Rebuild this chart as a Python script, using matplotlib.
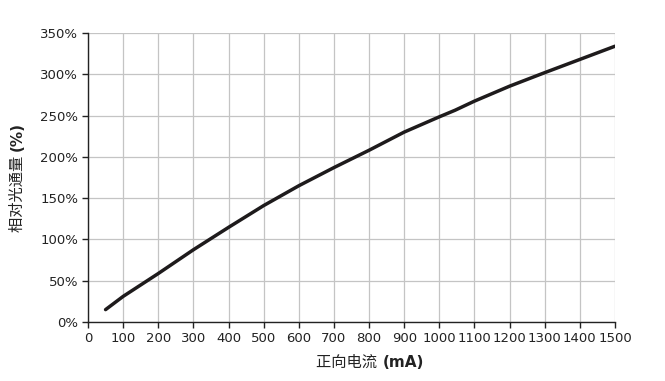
import matplotlib
matplotlib.use("Agg")
import matplotlib.pyplot as plt
from matplotlib.ticker import FuncFormatter

plt.rcParams['font.family'] = ['DejaVu Sans', 'Noto Sans CJK SC']

current_ma = [50, 100, 200, 300, 400, 500, 600, 700, 800, 900, 1000, 1045, 1100, 1200, 1300, 1400, 1500]
rel_flux = [15, 31, 58.7, 87.5, 114.6, 141, 165, 187, 208, 230, 248.5, 256.5, 267.5, 285.6, 302, 318, 334]

x_ticks = list(range(0, 1501, 100))
y_ticks = list(range(0, 351, 50))

fig = plt.figure(figsize=(6.65, 3.81), dpi=100)
ax = fig.add_axes([88/665, 1-322/381, (615-88)/665, (322-33)/381])

ax.plot(current_ma, rel_flux, color='#1e1b1c', lw=2.5, solid_capstyle='round', solid_joinstyle='round')

ax.set_xlim(0, 1500)
ax.set_ylim(0, 350)
ax.set_xticks(x_ticks)
ax.set_yticks(y_ticks)
ax.yaxis.set_major_formatter(FuncFormatter(lambda v, p: f"{int(v)}%"))
ax.grid(True, color='#c4c4c4', lw=0.9)
ax.set_axisbelow(True)
for s in ['top', 'right']:
    ax.spines[s].set_visible(False)
for s in ['left', 'bottom']:
    ax.spines[s].set_color('#222222')
    ax.spines[s].set_linewidth(1.0)
ax.tick_params(axis='both', direction='out', length=4, width=1.0, color='#222222',
               labelsize=9.5, labelcolor='#222222', pad=3)

fs = 11
# x label: normal Chinese + bold (mA)
t1 = fig.text(0, 0, "正向电流 ", fontsize=fs, color='#222222', va='baseline')
t2 = fig.text(0, 0, "(mA)", fontsize=fs, fontweight='bold', color='#222222', va='baseline')
fig.canvas.draw()
r = fig.canvas.get_renderer()
w1 = t1.get_window_extent(r).width
w2 = t2.get_window_extent(r).width
cx = 370
x0 = cx - (w1 + w2) / 2
t1.set_position((x0 / 665, 1 - 367/381))
t2.set_position(((x0 + w1) / 665, 1 - 367/381))

# y label rotated
u1 = fig.text(0, 0, "相对光通量 ", fontsize=fs, color='#222222', rotation=90, ha='left', va='bottom')
u2 = fig.text(0, 0, "(%)", fontsize=fs, fontweight='bold', color='#222222', rotation=90, ha='left', va='bottom')
fig.canvas.draw()
h1 = u1.get_window_extent(r).height
h2 = u2.get_window_extent(r).height
cy = 177
ybot = 381 - (cy + (h1 + h2) / 2)
u1.set_position((10/665, ybot / 381))
u2.set_position((10/665, (ybot + h1) / 381))

fig.savefig("out.png", dpi=100)
